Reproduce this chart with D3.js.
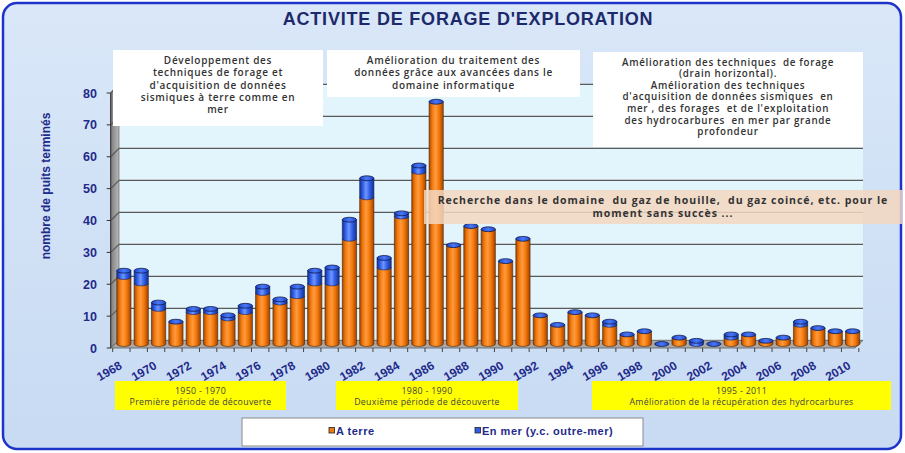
<!DOCTYPE html>
<html>
<head>
<meta charset="utf-8">
<script src="https://cdn.jsdelivr.net/npm/d3@7"></script>
<style>
  body { margin: 0; background: #fff; }
</style>
</head>
<body>
<div id="chart"></div>
<script>
// data
var years = [1968, 1969, 1970, 1971, 1972, 1973, 1974, 1975, 1976, 1977,
    1978, 1979, 1980, 1981, 1982, 1983, 1984, 1985, 1986, 1987,
    1988, 1989, 1990, 1991, 1992, 1993, 1994, 1995, 1996, 1997,
    1998, 1999, 2000, 2001, 2002, 2003, 2004, 2005, 2006, 2007,
    2008, 2009, 2010];
// "A terre"
var landValues = [21, 19, 11, 7, 10, 10, 8, 10, 16, 13,
    15, 19, 19, 33, 46, 24, 40, 54, 76, 31,
    37, 36, 26, 33, 9, 6, 10, 9, 6, 3,
    4, 0, 2, 0, 0, 2, 3, 1, 2, 6,
    5, 4, 4];
// "En mer (y.c. outre-mer)"
var seaValues = [2, 4, 2, 0, 1, 1, 1, 2, 2, 1,
    3, 4, 5, 6, 6, 3, 1, 2, 0, 0,
    0, 0, 0, 0, 0, 0, 0, 0, 1, 0,
    0, 0, 0, 1, 0, 1, 0, 0, 0, 1,
    0, 0, 0];
var yTicks = [0, 10, 20, 30, 40, 50, 60, 70, 80];
var seriesNames = ["A terre", "En mer (y.c. outre-mer)"];

var note1 = ["Développement des", "techniques de forage et", "d'acquisition de données",
    "sismiques à terre comme en", "mer"];
var note2 = ["Amélioration du traitement des", "données grâce aux avancées dans le",
    "domaine informatique"];
var note3 = ["Amélioration des techniques  de forage", "(drain horizontal).",
    "Amélioration des techniques", "d'acquisition de données sismiques  en",
    "mer , des forages  et de l'exploitation", "des hydrocarbures  en mer par grande",
    "profondeur"];
var note4 = ["Recherche dans le domaine  du gaz de houille,  du gaz coincé, etc. pour le",
    "moment sans succès ..."];
var periods = [
    { l1: "1950 - 1970", l2: "Première période de découverte", x0: 115, x1: 286 },
    { l1: "1980 - 1990", l2: "Deuxième période de découverte", x0: 336, x1: 518 },
    { l1: "1995 - 2011", l2: "Amélioration de la récupération des hydrocarbures", x0: 592, x1: 891 }
];

var W = 905, H = 453;
var navy = "#1f2a8a";
var svg = d3.select("#chart").append("svg")
    .attr("width", W).attr("height", H);

var defs = svg.append("defs");
function hGrad(id, stops) {
    var g = defs.append("linearGradient").attr("id", id)
        .attr("x1", 0).attr("x2", 1).attr("y1", 0).attr("y2", 0);
    stops.forEach(function (s) { g.append("stop").attr("offset", s[0]).attr("stop-color", s[1]); });
}
hGrad("gOrange", [[0, "#a84600"], [0.22, "#f27a0c"], [0.45, "#ff9a40"], [0.7, "#f37808"], [1, "#a34200"]]);
hGrad("gBlue", [[0, "#17308f"], [0.22, "#2f5fe8"], [0.45, "#6f96ff"], [0.7, "#2e5de6"], [1, "#16308a"]]);
hGrad("gCap", [[0, "#1f47c8"], [0.5, "#4a78f5"], [1, "#1f47c8"]]);
hGrad("gWall", [[0, "#7d7d7d"], [1, "#b9b9b9"]]);
var vg = defs.append("linearGradient").attr("id", "gFrame")
    .attr("x1", 0).attr("x2", 0).attr("y1", 0).attr("y2", 1);
vg.append("stop").attr("offset", 0).attr("stop-color", "#d9e7f8");
vg.append("stop").attr("offset", 1).attr("stop-color", "#c8dbf3");

// frame
svg.append("rect")
    .attr("x", 3).attr("y", 3).attr("width", 898).attr("height", 446)
    .attr("rx", 14)
    .attr("fill", "url(#gFrame)")
    .attr("stroke", "#1d33c9").attr("stroke-width", 2.5);

svg.append("text")
    .attr("x", 468).attr("y", 25)
    .attr("text-anchor", "middle")
    .attr("font-family", "Liberation Sans, Arial, sans-serif")
    .attr("font-weight", "bold").attr("font-size", 18)
    .attr("letter-spacing", 0.8)
    .attr("fill", "#1c2a6b")
    .text("ACTIVITE DE FORAGE D'EXPLORATION");

// scales: front (axis), middle (bars), back (wall)
var x = d3.scaleBand().domain(years).range([112.7, 858.8])
    .paddingInner(0.18).paddingOuter(0.09);
var yFront = d3.scaleLinear().domain([0, 80]).range([348, 93]);
var yBar = d3.scaleLinear().domain([0, 80]).range([344, 89]);
var yWall = d3.scaleLinear().domain([0, 80]).range([340.3, 84.3]);
var axisX = 110.7, wallX0 = 119, wallX1 = 863;

// back wall
svg.append("rect")
    .attr("x", wallX0).attr("y", yWall(80))
    .attr("width", wallX1 - wallX0).attr("height", yWall(0) - yWall(80))
    .attr("fill", "#e2f5fc");

// left wall
svg.append("polygon")
    .attr("points", [[axisX, yFront(80)], [wallX0, yWall(80)], [wallX0, yWall(0)], [axisX, yFront(0)]].join(" "))
    .attr("fill", "url(#gWall)").attr("stroke", "#555").attr("stroke-width", 0.6);

// gridlines
var grid = svg.append("g");
yTicks.slice(1).forEach(function (v) {
    grid.append("path")
        .attr("d", "M" + axisX + "," + yFront(v) + "L" + wallX0 + "," + yWall(v) + "L" + wallX1 + "," + yWall(v))
        .attr("fill", "none").attr("stroke", "#5a5a5a").attr("stroke-width", 1.2);
});

// floor
svg.append("polygon")
    .attr("points", [[axisX, yFront(0)], [855, yFront(0)], [wallX1, yWall(0)], [wallX0, yWall(0)]].join(" "))
    .attr("fill", "#a9a9a9").attr("stroke", "#5c5c5c").attr("stroke-width", 0.8);

// y axis
svg.append("line")
    .attr("x1", axisX).attr("x2", axisX)
    .attr("y1", yFront(80)).attr("y2", yFront(0))
    .attr("stroke", "#333").attr("stroke-width", 1);
var yAx = svg.append("g");
yTicks.forEach(function (v) {
    yAx.append("line").attr("x1", axisX - 4).attr("x2", axisX)
        .attr("y1", yFront(v)).attr("y2", yFront(v))
        .attr("stroke", "#333");
    yAx.append("text")
        .attr("x", 97).attr("y", yFront(v) + 4.5)
        .attr("text-anchor", "end")
        .attr("font-family", "Liberation Sans, Arial, sans-serif")
        .attr("font-weight", "bold").attr("font-size", 12.5)
        .attr("fill", navy)
        .text(v);
});
svg.append("text")
    .attr("transform", "translate(50,186) rotate(-90)")
    .attr("text-anchor", "middle")
    .attr("font-family", "Liberation Sans Narrow, Arial Narrow, sans-serif")
    .attr("font-stretch", "condensed")
    .attr("font-weight", "bold").attr("font-size", 12)
    .attr("fill", navy)
    .text("nombre de puits terminés");

// x axis ticks and labels
var step = x.step(), half = step * x.paddingInner() / 2;
var xAx = svg.append("g");
years.forEach(function (yr) {
    var b = x(yr) - half;
    xAx.append("line").attr("x1", b).attr("x2", b)
        .attr("y1", yFront(0)).attr("y2", yFront(0) + 4)
        .attr("stroke", "#444");
});
xAx.append("line").attr("x1", 858.8).attr("x2", 858.8)
    .attr("y1", yFront(0)).attr("y2", yFront(0) + 4).attr("stroke", "#444");
years.filter(function (yr) { return yr % 2 === 0; }).forEach(function (yr) {
    var cx = x(yr) + x.bandwidth() / 2;
    xAx.append("text")
        .attr("transform", "translate(" + (cx + 1.5) + ",368) rotate(-30)")
        .attr("text-anchor", "end")
        .attr("font-family", "Liberation Sans, Arial, sans-serif")
        .attr("font-weight", "bold").attr("font-size", 12)
        .attr("fill", navy)
        .text(yr);
});

// cylinders
var data = years.map(function (yr, i) {
    return { year: yr, land: landValues[i], sea: seaValues[i] };
});
var bw = x.bandwidth(), rx = bw / 2, ry = 2.4;
var bars = svg.append("g").selectAll("g").data(data).enter().append("g");
bars.each(function (d) {
    var g = d3.select(this);
    var cx = x(d.year) + bw / 2 + 2.5;
    var l = cx - rx, r = cx + rx;
    var y0 = yBar(0), yL = yBar(d.land), yT = yBar(d.land + d.sea);
    if (d.land > 0) {
        g.append("path")
            .attr("d", "M" + l + "," + yL + "L" + l + "," + y0 + "A" + rx + "," + ry + " 0 0 0 " + r + "," + y0 + "L" + r + "," + yL + "Z")
            .attr("fill", "url(#gOrange)").attr("stroke", "#4a2200").attr("stroke-width", 0.6);
    }
    if (d.sea > 0) {
        g.append("path")
            .attr("d", "M" + l + "," + yT + "L" + l + "," + yL + "A" + rx + "," + ry + " 0 0 0 " + r + "," + yL + "L" + r + "," + yT + "Z")
            .attr("fill", "url(#gBlue)").attr("stroke", "#0d1d5a").attr("stroke-width", 0.6);
    }
    g.append("ellipse")
        .attr("cx", cx).attr("cy", yT).attr("rx", rx).attr("ry", ry)
        .attr("fill", "url(#gCap)").attr("stroke", "#0b1850").attr("stroke-width", 0.8);
});

// note boxes
function noteBox(lines, bx, by, bw2, bh, y0, dy, fill, weight, fs, ls) {
    svg.append("rect").attr("x", bx).attr("y", by).attr("width", bw2).attr("height", bh)
        .attr("fill", fill);
    svg.append("g").selectAll("text").data(lines).enter().append("text")
        .attr("x", bx + bw2 / 2)
        .attr("y", function (d, i) { return y0 + i * dy; })
        .attr("text-anchor", "middle")
        .attr("font-family", "Open Sans, Noto Sans, sans-serif")
        .attr("font-weight", weight).attr("font-size", fs)
        .attr("letter-spacing", ls)
        .attr("fill", "#333")
        .style("white-space", "pre")
        .text(function (d) { return d; });
}
noteBox(note1, 113, 50, 210, 76, 64, 12.3, "#fff", 600, 10, 0.7);
noteBox(note2, 327, 50, 253, 47, 64, 12.3, "#fff", 600, 10, 0.7);
noteBox(note3, 593, 52, 270, 95, 65.5, 11.6, "#fff", 600, 9.8, 0.7);
noteBox(note4, 424, 190, 478, 34, 204, 13, "rgba(243,215,193,0.85)", 700, 10.5, 0.95);

// period boxes
var per = svg.append("g").selectAll("g").data(periods).enter().append("g");
per.append("rect")
    .attr("x", function (d) { return d.x0; }).attr("y", 381)
    .attr("width", function (d) { return d.x1 - d.x0; }).attr("height", 29)
    .attr("fill", "#ffff00");
per.append("text")
    .attr("x", function (d) { return (d.x0 + d.x1) / 2; }).attr("y", 394)
    .attr("text-anchor", "middle")
    .attr("font-family", "Open Sans, Noto Sans, sans-serif").attr("font-size", 8.8)
    .attr("letter-spacing", 0.3)
    .attr("fill", "#444")
    .text(function (d) { return d.l1; });
per.append("text")
    .attr("x", function (d) { return (d.x0 + d.x1) / 2; }).attr("y", 405)
    .attr("text-anchor", "middle")
    .attr("font-family", "Open Sans, Noto Sans, sans-serif").attr("font-size", 8.8)
    .attr("letter-spacing", 0.3)
    .attr("fill", "#444")
    .text(function (d) { return d.l2; });

// legend
svg.append("rect")
    .attr("x", 242).attr("y", 418).attr("width", 401).attr("height", 28)
    .attr("fill", "#fff").attr("stroke", "#8a8a8a").attr("stroke-width", 1);
var legColors = ["#f07a10", "#2f5fe8"];
var legX = [329, 475];
var leg = svg.append("g").selectAll("g").data(seriesNames).enter().append("g")
    .attr("transform", function (d, i) { return "translate(" + legX[i] + ",0)"; });
leg.append("rect")
    .attr("x", 0).attr("y", 427.5).attr("width", 5.5).attr("height", 5.5)
    .attr("fill", function (d, i) { return legColors[i]; })
    .attr("stroke", "#222").attr("stroke-width", 0.8);
leg.append("text")
    .attr("x", 7).attr("y", 434.5)
    .attr("font-family", "Liberation Sans, Arial, sans-serif")
    .attr("font-weight", "bold").attr("font-size", 11)
    .attr("letter-spacing", 0.5)
    .attr("fill", navy)
    .text(function (d) { return d; });
</script>
</body>
</html>
